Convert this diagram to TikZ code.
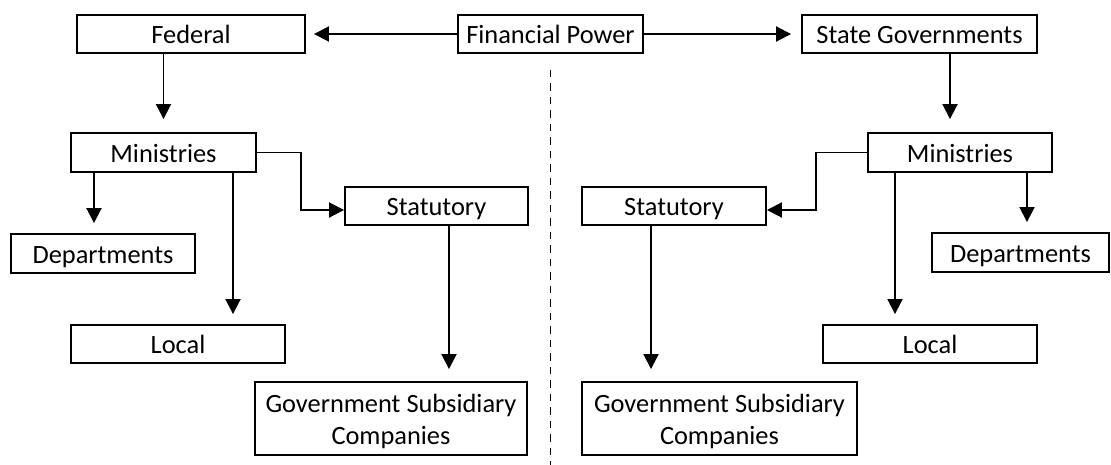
\documentclass[tikz,border=0pt]{standalone}
\usepackage{fontspec}
\setmainfont{Carlito}
\usetikzlibrary{arrows.meta}
\begin{document}
\begin{tikzpicture}[x=1pt,y=-1pt,
  font=\fontsize{26.4}{32}\selectfont,
  box/.style={draw, line width=1.9pt, inner sep=0pt, minimum height=38pt, align=center},
  oneline/.style={box, text height=24pt, text depth=4.6pt},
  twoline/.style={box, minimum height=73pt},
  arr/.style={line width=1.9pt, -{Triangle[width=15pt,length=15pt]}},
  divider/.style={line width=1.7pt, dash pattern=on 7.5pt off 6pt}]
\useasboundingbox (0,0) rectangle (1111,464);

% top row
\node[oneline, minimum width=228pt] (fed) at (191,34) {Federal};
\node[oneline, minimum width=185pt] (fin) at (550.5,34) {Financial Power};
\node[oneline, minimum width=235pt] (state) at (919.5,34) {State Governments};

% federal side
\node[oneline, minimum width=185pt, minimum height=39pt] (minL) at (163.5,152.5) {Ministries};
\node[oneline, minimum width=183pt] (statL) at (436.5,206) {Statutory};
\node[oneline, minimum width=184pt, minimum height=39pt] (depL) at (103,253.5) {Departments};
\node[oneline, minimum width=214pt] (locL) at (178,344) {Local};
\node[twoline, minimum width=272pt] (govL) at (391,418.5)
  {\rule{0pt}{24pt}Government Subsidiary\\Companies\rule[-4.6pt]{0pt}{4.6pt}};

% state side
\node[oneline, minimum width=184pt, minimum height=39pt] (minR) at (960,152.5) {Ministries};
\node[oneline, minimum width=184pt] (statR) at (674,206) {Statutory};
\node[oneline, minimum width=177pt, minimum height=39pt] (depR) at (1020.5,252.5) {Departments};
\node[oneline, minimum width=214pt] (locR) at (930,344) {Local};
\node[twoline, minimum width=275pt] (govR) at (719.5,418.5)
  {\rule{0pt}{24pt}Government Subsidiary\\Companies\rule[-4.6pt]{0pt}{4.6pt}};

% dividing line
\coordinate (divbot) at (550,464);
\draw[divider] ([yshift=-16pt]fin.south) -- ([yshift=-16pt]fin.south |- divbot);

% connectors
\draw[arr, shorten >=8pt] (fin.west) -- (fed.east);
\draw[arr, shorten >=10pt] (fin.east) -- (state.west);

\draw[arr, shorten >=13pt] (fed.south -| minL.north) -- (minL.north);
\draw[arr, shorten >=13pt] ([xshift=30.5pt]state.south) -- ([xshift=30.5pt]state.south |- minR.north);

\draw[arr] (minL.east) -- ++(44,0) |- ([yshift=-4pt]statL.west);
\draw[arr] (minR.west) -- ++(-51,0) |- ([yshift=-4pt]statR.east);

\draw[arr, shorten >=10pt] ([xshift=-69.5pt]minL.south) -- ([xshift=-69.5pt]minL.south |- depL.north);
\draw[arr, shorten >=10pt] ([xshift=69.5pt]minL.south) -- ([xshift=69.5pt]minL.south |- locL.north);
\draw[arr, shorten >=12pt] ([xshift=12.5pt]statL.south) -- ([xshift=12.5pt]statL.south |- govL.north);

\draw[arr, shorten >=12pt] ([xshift=-23pt]statR.south) -- ([xshift=-23pt]statR.south |- govR.north);
\draw[arr, shorten >=10pt] ([xshift=-65pt]minR.south) -- ([xshift=-65pt]minR.south |- locR.north);
\draw[arr, shorten >=10pt] ([xshift=67pt]minR.south) -- ([xshift=67pt]minR.south |- depR.north);
\end{tikzpicture}
\end{document}
